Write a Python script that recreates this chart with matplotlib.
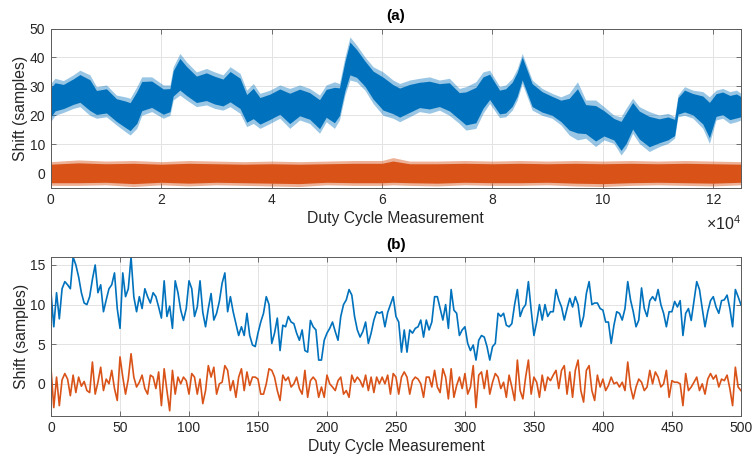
import numpy as np
import matplotlib
matplotlib.use('Agg')
import matplotlib.pyplot as plt
from matplotlib.ticker import FixedLocator, FuncFormatter

plt.rcParams['font.family'] = ['Liberation Sans', 'DejaVu Sans']
plt.rcParams['mathtext.fontset'] = 'custom'
plt.rcParams['mathtext.rm'] = 'Liberation Sans'

BLUE = '#0072BD'
ORANGE = '#D95319'

# ---------------- (a) envelope of the dense traces ----------------
env_x = [0.00, 0.08, 0.23, 0.41, 0.53, 0.71, 0.83, 1.01, 1.19, 1.35, 1.44, 1.56, 1.65, 1.83,
         2.04, 2.16, 2.22, 2.34, 2.46, 2.64, 2.82, 2.97, 3.12, 3.25, 3.43, 3.55, 3.67, 3.79,
         3.97, 4.15, 4.33, 4.51, 4.69, 4.87, 4.99, 5.14, 5.23, 5.33, 5.42, 5.54, 5.69, 5.84,
         6.02, 6.20, 6.32, 6.50, 6.68, 6.86, 7.04, 7.22, 7.40, 7.52, 7.70, 7.83, 7.95, 8.13,
         8.24, 8.36, 8.45, 8.54, 8.63, 8.72, 8.90, 9.08, 9.24, 9.39, 9.54, 9.69, 9.87, 10.02,
         10.20, 10.33, 10.42, 10.54, 10.66, 10.84, 11.02, 11.18, 11.30, 11.36, 11.48, 11.63,
         11.81, 11.93, 12.05, 12.17, 12.30, 12.42, 12.50]  # x 1e4
blue_hi = [31, 32.8, 32, 34, 35.6, 34, 29.9, 30.5, 27, 26.4, 25.9, 29.9, 33.3, 33.3,
           30.5, 30.5, 36.8, 41.4, 38.5, 35, 36.2, 35, 34, 36.8, 34.5, 28.7, 31, 27.6,
           28.7, 30.5, 29.3, 30.5, 29.3, 27, 30.5, 31.6, 31, 40.2, 47.1, 44.3, 40.2, 36.8,
           35, 32.2, 31, 32.2, 32.8, 33.3, 32.2, 32.8, 29.3, 29.9, 31.6, 35, 35.6, 30,
           30.5, 32.8, 36.2, 41.4, 36.8, 32.2, 29.3, 27.6, 26.4, 27.6, 31.6, 25.3, 25.3, 23,
           20.1, 19.5, 22.4, 25.9, 23, 21.3, 20.1, 20.7, 19.5, 27, 29.9, 28.7,
           28.2, 26.4, 28.7, 29.3, 28.2, 28.7, 27.6]
blue_lo = [17.8, 20, 21, 22.4, 23, 20, 19, 19.5, 16.7, 14.4, 13.2, 15.5, 20, 21.3,
           19, 20, 25.3, 27, 25.3, 23, 23.6, 22.4, 21.8, 23, 20.7, 16.1, 17.2, 15.5,
           17.2, 19, 15.5, 18.4, 17.2, 13.8, 17.8, 15.5, 18.4, 27, 32.2, 31.6, 28.7, 24.1,
           20, 19, 17.8, 19.5, 21.3, 20.7, 21.8, 20, 17.2, 14.9, 15.5, 20.7, 24.1, 19.2,
           19.5, 21.8, 25.3, 31, 26.4, 21.8, 20, 19, 16.7, 13.2, 11.5, 12.1, 9.2, 11.5,
           10.3, 6.3, 8.6, 13.8, 10.3, 7.5, 9.2, 10.3, 12.1, 19.5, 20, 19,
           15.5, 10.3, 18.4, 19, 17.2, 17.8, 18.4]

orange_x = [0, 0.5, 1.0, 1.5, 2.0, 2.5, 3.0, 3.5, 4.0, 4.5, 5.0, 5.5, 6.0, 6.2, 6.5,
            7.0, 7.5, 8.0, 8.5, 9.0, 9.5, 10.0, 10.5, 11.0, 11.5, 12.0, 12.5]  # x 1e4
orange_hi = [4.0, 4.6, 4.2, 4.4, 4.0, 4.4, 4.2, 4.0, 4.2, 4.0, 4.2, 4.4, 4.4, 5.4, 4.2,
             4.2, 4.4, 4.2, 4.4, 4.2, 4.4, 4.2, 4.4, 4.2, 4.4, 4.2, 4.0]
orange_lo = [-4.2, -4.2, -4.0, -4.6, -4.0, -4.4, -4.0, -4.2, -4.4, -4.6, -4.0, -4.2, -4.2, -4.0, -4.2,
             -4.4, -4.0, -4.2, -4.2, -4.0, -4.4, -4.6, -4.2, -4.0, -4.2, -4.4, -4.0]

# ---------------- (b) first 500 measurements (every 2nd value read) ----------------
xb = np.arange(0, 501, 2)
blue_b = [
    11.5, 7.2, 11.5, 8.2, 12, 12.9, 12.5, 12, 16, 15, 13.5, 11.5, 10.2, 10, 11, 13.2, 15, 11.5, 12.5, 9.1,
    10.6, 12, 12.5, 14, 9.5, 7, 14, 11, 12, 16, 11, 9.1, 11, 9.5, 12, 11, 10.2, 11.5, 11, 9.7,
    8.3, 13, 8.5, 9.8, 7, 13, 11.5, 9.3, 8, 9.5, 13, 12, 8.5, 9.7, 13, 9, 7.2, 9.5, 11.4, 8.05,
    8.9, 10.4,
    12.7, 14, 9.1, 11, 9.1, 7.6, 6.1, 7.2, 6.1, 8.9, 6.1, 4.9, 4.7, 6.4, 7.8, 8.9, 11, 10, 5.1, 6.4,
    8.3, 4.2, 7.4, 7.2, 8.5, 7.8, 7.6, 6.4, 5.5, 6.8, 4.2, 4.0, 8.0, 7.2, 6.8, 3.0, 3.0, 5.5, 6.4, 7.0,
    7.8, 6.6, 5.5, 8.5, 10, 10.6, 11.9, 11.2, 8.5, 6.8, 5.9, 6.6, 7.8, 5.1, 6.4, 8.05, 9.1, 8.9, 9.1, 7.2,
    9.0,
    10, 11, 8.5, 7.8, 4, 6.8, 4, 6.8, 6.4, 7, 7.2, 8.05, 5.9, 8.05, 6.8, 7.8, 11, 11, 9.5, 8.05,
    10, 7.0, 11.9, 9.3, 8.9, 6.1, 6.8, 7.2, 5.1, 4.2, 4.9, 3.0, 5.5, 6.1, 5.9, 4.7, 3.0, 4.7, 5.1, 8.9,
    8.5, 8.9, 7.4, 7.2, 7.6, 10.0, 11.9, 8.5, 9.5, 10.0, 12.9, 9.3, 6.1, 7.8, 10, 8.05, 10, 8.5, 9.1, 9.1,
    11.9, 10.6,
    9.7, 8.05, 9.5, 10.8, 9.7, 11, 10, 7.2, 8.5, 11.4, 12.9, 10, 10.2, 10.2, 9.5, 9.3, 7.8, 7.8, 5.1, 7.4,
    9.1, 8.9, 8.05, 9.5, 12.9, 10.6, 9.1, 7.2, 8.05, 12.1, 9.5, 8.5, 10.5, 11, 10.5, 11.9, 10, 8.9, 7.2, 9.1,
    9.1, 10.4, 9.7, 10.5, 6.1, 8.9, 9.5, 8, 10.5, 12.9, 11.9, 9.5, 7.2, 9.1, 10.5, 11, 9.7, 8.9, 10.5, 10.6,
    11.2, 9.5, 7.2, 11.9, 11, 10]
orange_b = [
    1.9, -3.0, 0.85, -2.75, 0.5, 1.3, 0.6, -1.5, 1.1, -1.1, 0.85, -0.3, 0.3, -0.85, -1.1, 2.75, -1.3, 0.2, 2.1, -0.85,
    0.6, 0, 1.7, -0.6, -2.1, 3.4, 0.85, -1.3, 0.6, 3.8, 0.85, -0.4, 0.2, 1.1, -0.6, -1.3, 1.1, 0.85, -0.6, 1.5,
    -2.75, 1.9, -0.85, -3.4, 1.7, -1.3, 0.85, 0, 0.85, 0.4, -1.3, 1.3, 0.85, -1.3, 0.6, -2.5, -0.85, 2.3, 0.85, 2.1,
    -1.3, 0,
    0.2, 2.3, 1.7, -0.85, 0.4, -1.7, 0.85, 1.9, -0.85, 1.5, -0.2, 0.85, 0.85, 0.6, -1.3, -1.3, 0, 1.9, 1.7, 0.85,
    -0.85, -2.1, 1.1, 0.4, 0.85, -0.4, 0, 0.85, -0.6, -1.3, 1.7, -1.7, 0.4, 0.85, 0.4, -1.7, -0.4, -1.7, 1.1, 0,
    -0.4, -0.85, 0.4, 0.85, -1.3, -0.85, -1.7, 1.1, 0.2, 0.85, 0.4, -0.4, 1.1, -0.85, 0.85, -1.1, 0.85, 0, 0.85, 0,
    1.1,
    -1.3, 1.3, 0.85, -1.3, 0.85, 1.5, 0.85, -1.3, 0.4, 0.85, 0.6, 0, -1.7, 0.85, 0.85, -0.4, 1.7, -0.4, -1.1, 1.9,
    0.85, -1.9, 1.9, -1.7, -0.2, 0.85, -0.6, 1.3, -1.3, -0.4, 2.3, -3.0, 1.1, 1.5, -0.6, 1.7, -1.3, 0.2, 1.3, 0.85,
    -0.6, 0.2, -1.7, 1.1, -0.4, -2.1, 3.0, -0.85, -1.9, 0.85, 3.0, -1.3, 0.85, 0.2, -1.7, 1.1, -0.85, 0.85, 0.4, 1.1,
    1.7, -0.6,
    1.7, 2.3, -1.3, 1.5, -1.7, 1.7, 3.0, -0.85, -2.3, 1.7, 2.3, -0.85, -2.1, 1.1, -0.4, 0.6, -0.85, -0.2, 0.85, 0,
    0.2, -0.4, 0.2, -0.85, 2.75, -0.4, -1.9, -0.4, 0.6, 0.2, -0.85, -0.4, 1.7, 0, 1.5, 0.85, -0.4, 0, 1.7, -1.7,
    0.4, 0.2, 0.2, 0, -2.75, 1.3, -0.85, -0.4, 0.2, 0.85, -0.85, 0, -1.3, 0.6, 1.3, 0.6, 1.1, -0.4, 0.6, 0.4,
    1.1, -0.6, -2.75, 2.1, -0.4, -0.85]

xticks_a = [0, 20000, 40000, 60000, 80000, 100000, 120000]
yticks_a = [0, 10, 20, 30, 40, 50]
xticks_b = [0, 50, 100, 150, 200, 250, 300, 350, 400, 450, 500]
yticks_b = [0, 5, 10, 15]

TXT = '#262626'
SPINE = '#5a5a5a'
GRID = '#e3e3e3'


def style(ax):
    for s in ax.spines.values():
        s.set_color(SPINE)
        s.set_linewidth(0.7)
    ax.tick_params(direction='in', length=3.5, width=0.6, colors=SPINE,
                   labelcolor=TXT, labelsize=10, top=True, right=True, pad=4)
    ax.grid(True, color=GRID, linewidth=0.7)
    ax.set_axisbelow(True)


fig = plt.figure(figsize=(7.56, 4.62), dpi=100)
ax1 = fig.add_axes([0.067, 0.5937, 0.913, 0.3446])
ax2 = fig.add_axes([0.0675, 0.1006, 0.9125, 0.343])

# ----- (a) -----
ex = np.array(env_x) * 1e4
bh = np.array(blue_hi)
bl = np.array(blue_lo)
w = bh - bl
ax1.fill_between(ex, bl, bh, color=BLUE, alpha=0.4, lw=0)
ax1.fill_between(ex, bl + 0.12 * w, bh - 0.12 * w, color=BLUE, alpha=1.0, lw=0)
ox = np.array(orange_x) * 1e4
oh = np.array(orange_hi)
ol = np.array(orange_lo)
ax1.fill_between(ox, ol, oh, color=ORANGE, alpha=0.45, lw=0)
ax1.fill_between(ox, ol * 0.78, oh * 0.78, color=ORANGE, alpha=1.0, lw=0)
ax1.set_xlim(0, 125000)
ax1.set_ylim(-5, 50)
ax1.xaxis.set_major_locator(FixedLocator(xticks_a))
ax1.yaxis.set_major_locator(FixedLocator(yticks_a))
ax1.xaxis.set_major_formatter(FuncFormatter(lambda v, p: f'{v / 1e4:g}'))
style(ax1)
ax1.text(1.0, -0.165, r'$\times10^{4}$', transform=ax1.transAxes, ha='right', va='top',
         fontsize=11.5, color=TXT)
ax1.set_title('(a)', fontsize=11, fontweight='bold', color='black', pad=6)
ax1.set_xlabel('Duty Cycle Measurement', fontsize=11.3, color=TXT, labelpad=3)
ax1.set_ylabel('Shift (samples)', fontsize=11.3, color=TXT, labelpad=1)

# ----- (b) -----
ax2.plot(xb, blue_b, color=BLUE, lw=1.2)
ax2.plot(xb, orange_b, color=ORANGE, lw=1.2)
ax2.set_xlim(0, 500)
ax2.set_ylim(-4, 16)
ax2.xaxis.set_major_locator(FixedLocator(xticks_b))
ax2.yaxis.set_major_locator(FixedLocator(yticks_b))
style(ax2)
ax2.set_title('(b)', fontsize=11, fontweight='bold', color='black', pad=6)
ax2.set_xlabel('Duty Cycle Measurement', fontsize=11.3, color=TXT, labelpad=3)
ax2.set_ylabel('Shift (samples)', fontsize=11.3, color=TXT, labelpad=1)

fig.savefig('out.png', dpi=100)
